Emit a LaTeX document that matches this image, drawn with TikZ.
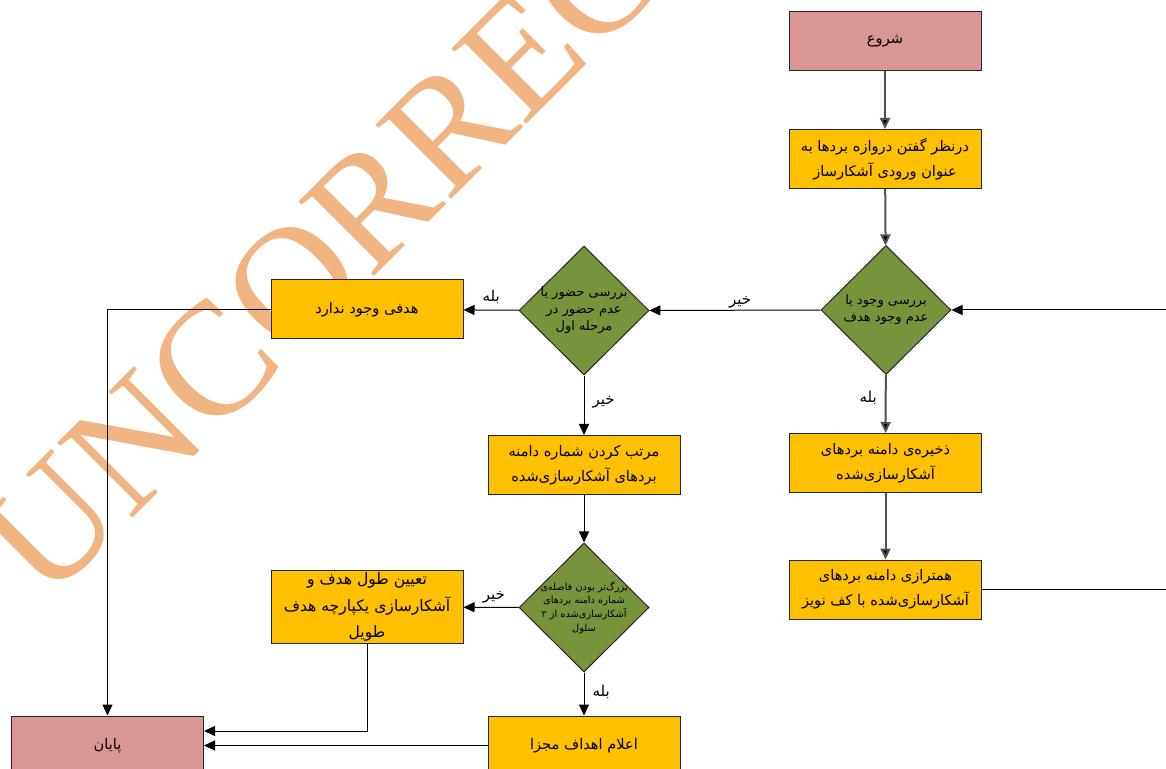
\documentclass[tikz,border=0pt]{standalone}
\usepackage{fontspec}
\usepackage{tikz}
\usetikzlibrary{shapes.geometric,arrows.meta}
\TeXXeTstate=1
\newfontfamily\farsi[Script=Arabic]{DejaVu Sans}
\newfontfamily\wmfont{Liberation Serif}
\newcommand{\fa}[1]{\beginR #1\endR}
\definecolor{termred}{RGB}{217,150,148}
\definecolor{procyellow}{RGB}{255,192,0}
\definecolor{decgreen}{RGB}{119,147,60}
\definecolor{wmorange}{RGB}{240,181,131}
\definecolor{flowgray}{RGB}{80,80,80}
\tikzset{
	terminal/.style={draw=black!85, fill=termred, minimum width=96pt, minimum height=29.5pt, inner sep=1pt, align=center, font=\farsi\fontsize{7.3}{12.5}\selectfont},
	process/.style={terminal, fill=procyellow},
	decision/.style={diamond, draw=black!85, fill=decgreen, minimum width=65pt, minimum height=64.5pt, inner sep=-6pt, align=center, font=\farsi\fontsize{6.5}{8.5}\selectfont},
	lbl/.style={font=\farsi\fontsize{7.5}{9}\selectfont, inner sep=1pt},
}

\begin{document}
\begin{tikzpicture}[x=0.5pt, y=-0.5pt, line width=0.5pt, >={Triangle[length=5.5pt,width=5pt]}]
\useasboundingbox (0,0) rectangle (1166,769);
% watermark
\node[rotate=45, anchor=base west, inner sep=0pt, text=wmorange, font=\wmfont\fontsize{81}{81}\selectfont] (wm) at (46,605) {UNCORRECTED PROOF};

\node[terminal] (start) at (885,41.5) {\fa{شروع}};
\node[process] (gate) at (885,159) {\fa{درنظر گفتن دروازه بردها به}\\\fa{عنوان ورودی آشکارساز}};
\node[decision] (exist) at (886,310) {\fa{بررسی وجود یا}\\\fa{عدم وجود هدف}};
\node[process] (store) at (885.5,463) {\fa{ذخیره^^^^200cی دامنه بردهای}\\\fa{آشکارسازی^^^^200cشده}};
\node[process] (align) at (885.5,589.5) {\fa{همترازی دامنه بردهای}\\\fa{آشکارسازی^^^^200cشده با کف نویز}};
\node[decision] (first) at (584,310.5) {\fa{بررسی حضور یا}\\\fa{عدم حضور در}\\\fa{مرحله اول}};
\node[process] (none) at (367,309.5) {\fa{هدفی وجود ندارد}};
\node[process] (sort) at (584,465) {\fa{مرتب کردن شماره دامنه}\\\fa{بردهای آشکارسازی^^^^200cشده}};
\node[decision, font=\farsi\fontsize{4.9}{6.8}\selectfont] (gap) at (584,607.5) {\fa{بزرگ^^^^200cتر بودن فاصله^^^^200cی}\\\fa{شماره دامنه بردهای}\\\fa{آشکارسازی^^^^200cشده از ۲}\\\fa{سلول}};
\node[process, minimum height=36pt, font=\farsi\fontsize{7.8}{13.2}\selectfont] (merge) at (367,607) {\fa{تعیین طول هدف و}\\\fa{آشکارسازی یکپارچه هدف}\\\fa{طویل}};
\node[process] (alarm) at (584,745.5) {\fa{اعلام اهداف مجزا}};
\node[terminal] (stop) at (107.5,745.5) {\fa{پایان}};
\coordinate (loopin) at (1166,310);
\coordinate (loopout) at (1166,589.5);

\path[->, draw=flowgray, line width=1pt]
(start) edge (gate)
(gate) edge (exist)
(exist) edge node [lbl, left=3pt, pos=0.4] {\fa{بله}} (store)
(store) edge (align)
;
\path[->]
(loopin) edge (exist)
(exist) edge node [lbl, above, pos=0.47] {\fa{خیر}} (first)
(first) edge node [lbl, above=2pt] {\fa{بله}} (none)
(first) edge node [lbl, right=3pt, pos=0.45] {\fa{خیر}} (sort)
(sort) edge (gap)
(gap) edge node [lbl, above=1pt, pos=0.45] {\fa{خیر}} (merge)
(gap) edge node [lbl, right=3pt, pos=0.45] {\fa{بله}} (alarm)
(alarm) edge (stop)
;
\draw (align) -- (loopout);
\draw[->] (none.west) -| (stop.north);
\draw[->] (merge.south) |- ([yshift=7.25pt]stop.east);
\end{tikzpicture}
\end{document}
